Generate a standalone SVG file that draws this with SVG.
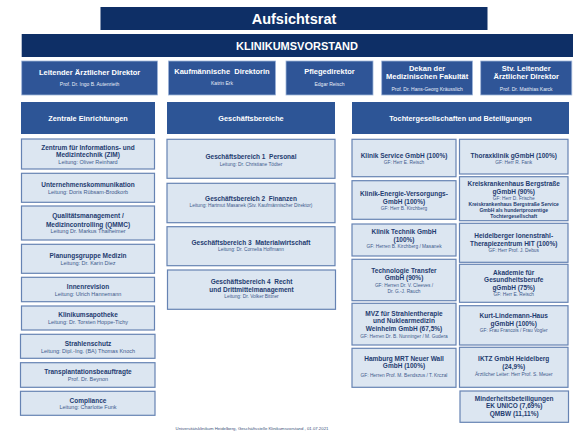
<svg xmlns="http://www.w3.org/2000/svg" width="585" height="439" viewBox="0 0 585 439">
<style>
text{font-family:"Liberation Sans",Arial,sans-serif;text-anchor:middle}
.pre{white-space:pre}
.dark{fill:#0E2F66}
.mid{fill:#2F5597;stroke:#9FB6DA;stroke-width:0.8}
.hdr{fill:#2D5596}
.box{fill:#DCE6F1;stroke:#6683B3;stroke-width:1.2}
.w{fill:#fff;font-weight:bold}
.ws{fill:#E8EEF8;font-size:5px}
.t{fill:#1F3C70;font-weight:bold;font-size:6.5px}
.tb{fill:#1F3C70;font-weight:bold;font-size:5px}
.s{fill:#3E5A8C;font-size:5.5px}
.m{fill:#3E5A8C;font-size:4.8px}
</style>
<rect width="585" height="439" fill="#fff"/>
<g id="aufsichtsrat"><rect class="dark" x="100.5" y="7" width="387" height="23"/><text class="w" x="294" y="24" font-size="14.5">Aufsichtsrat</text></g>
<g id="klinikumsvorstand"><rect class="dark" x="21.7" y="34" width="551.3" height="23"/><text class="w" x="297" y="49.5" font-size="11">KLINIKUMSVORSTAND</text></g>
<g id="lad"><rect class="mid" x="21.7" y="61" width="135.8" height="34"/><text class="w" x="89.6" y="75.3" font-size="7.5">Leitender Ärztlicher Direktor</text><text class="ws" x="89.6" y="86.1">Prof. Dr. Ingo B. Autenrieth</text></g>
<g id="kd"><rect class="mid" x="168.4" y="61" width="107.2" height="34"/><text class="w pre" x="222" y="74.3" font-size="7.5">Kaufmännische  Direktorin</text><text class="ws" x="222" y="85.1">Katrin Erk</text></g>
<g id="pd"><rect class="mid" x="286" y="61" width="87" height="34"/><text class="w" x="329.5" y="74.3" font-size="7.5">Pflegedirektor</text><text class="ws" x="329.5" y="86.1">Edgar Reisch</text></g>
<g id="dekan"><rect class="mid" x="381.7" y="61" width="90.8" height="34"/><text class="w" x="427.1" y="70.9" font-size="7.5">Dekan der</text><text class="w" x="427.1" y="79.3" font-size="7.5">Medizinischen Fakultät</text><text class="ws" x="427.1" y="91.1">Prof. Dr. Hans-Georg Kräusslich</text></g>
<g id="stv"><rect class="mid" x="480.7" y="61" width="91.1" height="34"/><text class="w" x="526.2" y="70.9" font-size="7.5">Stv. Leitender</text><text class="w" x="526.2" y="79.3" font-size="7.5">Ärztlicher Direktor</text><text class="ws" x="526.2" y="91.1">Prof. Dr. Matthias Karck</text></g>

<g id="hdr-zentrale"><rect class="hdr" x="21" y="102" width="134" height="32"/><text class="w" x="88" y="121" font-size="7.3">Zentrale Einrichtungen</text></g>
<g id="hdr-gb"><rect class="hdr" x="167" y="102" width="168" height="32"/><text class="w" x="251" y="121" font-size="7.3">Geschäftsbereiche</text></g>
<g id="hdr-toechter"><rect class="hdr" x="352" y="102" width="217" height="32"/><text class="w" x="460.5" y="121" font-size="7.3">Tochtergesellschaften und Beteiligungen</text></g>

<g id="zim"><rect class="box" x="21.5" y="139" width="133" height="30"/><text class="t" x="88" y="149.6">Zentrum für Informations- und</text><text class="t" x="88" y="157.3">Medizintechnik (ZIM)</text><text class="s" x="88" y="163.9">Leitung: Oliver Reinhard</text></g>
<g id="uk"><rect class="box" x="21.5" y="173.3" width="133" height="29"/><text class="t" x="88" y="187.3">Unternehmenskommunikation</text><text class="s" x="88" y="194.2">Leitung: Doris Rübsam-Brodkorb</text></g>
<g id="qmmc"><rect class="box" x="21.5" y="206" width="133" height="34"/><text class="t" x="88" y="218">Qualitätsmanagement /</text><text class="t" x="88" y="226.6">Medizincontrolling (QMMC)</text><text class="s" x="88" y="233.2">Leitung Dr. Markus Thalheimer</text></g>
<g id="pgm"><rect class="box" x="21.5" y="244.3" width="133" height="29"/><text class="t" x="88" y="258">Planungsgruppe Medizin</text><text class="s" x="88" y="264.6">Leitung: Dr. Karin Diez</text></g>
<g id="ir"><rect class="box" x="21.5" y="277.3" width="133" height="24.4"/><text class="t" x="88" y="289">Innenrevision</text><text class="s" x="88" y="295.9">Leitung: Ulrich Hannemann</text></g>
<g id="apo"><rect class="box" x="21.5" y="306" width="133" height="24"/><text class="t" x="88" y="317.3">Klinikumsapotheke</text><text class="s" x="88" y="324.2">Leitung: Dr. Torsten Hoppe-Tichy</text></g>
<g id="ss"><rect class="box" x="20.5" y="334.3" width="134.5" height="24"/><text class="t" x="88" y="345.6">Strahlenschutz</text><text class="s" x="88" y="352.6">Leitung: Dipl.-Ing. (BA) Thomas Knoch</text></g>
<g id="tpb"><rect class="box" x="20.5" y="362.7" width="134.5" height="24.6"/><text class="t" x="88" y="374">Transplantationsbeauftragte</text><text class="s" x="88" y="380.9">Prof. Dr. Beynon</text></g>
<g id="comp"><rect class="box" x="20.5" y="391.3" width="134.5" height="24"/><text class="t" x="88" y="402.6">Compliance</text><text class="s" x="88" y="409.2">Leitung: Charlotte Funk</text></g>

<g id="gb1"><rect class="box" x="167" y="139.3" width="168" height="39"/><text class="t pre" x="251" y="159.3">Geschäftsbereich 1  Personal</text><text class="m" x="251" y="166">Leitung: Dr. Christiane Tödter</text></g>
<g id="gb2"><rect class="box" x="167" y="183.3" width="168" height="39.4"/><text class="t pre" x="251" y="201.3">Geschäftsbereich 2  Finanzen</text><text class="m" x="251" y="206.9">Leitung: Hartmut Masanek (Stv. Kaufmännischer Direktor)</text></g>
<g id="gb3"><rect class="box" x="167" y="226.7" width="168" height="39"/><text class="t pre" x="251" y="244.6">Geschäftsbereich 3  Materialwirtschaft</text><text class="m" x="251" y="250.6">Leitung: Dr. Cornelia Hoffmann</text></g>
<g id="gb4"><rect class="box" x="167.5" y="270" width="168" height="39.3"/><text class="t pre" x="251.5" y="284">Geschäftsbereich 4  Recht</text><text class="t" x="251.5" y="292">und Drittmittelmanagement</text><text class="m" x="251.5" y="297.9">Leitung: Dr. Volker Bittner</text></g>

<g id="kservice"><rect class="box" x="352" y="139.3" width="104" height="37.4"/><text class="t" x="404" y="158">Klinik Service GmbH (100%)</text><text class="m" x="404" y="163.8">GF: Herr E. Reisch</text></g>
<g id="kenergie"><rect class="box" x="352" y="180.7" width="104" height="38.6"/><text class="t" x="404" y="196.3">Klinik-Energie-Versorgungs-</text><text class="t" x="404" y="203.6">GmbH (100%)</text><text class="m" x="404" y="209.8">GF: Herr B. Kirchberg</text></g>
<g id="ktechnik"><rect class="box" x="352" y="224" width="104" height="32"/><text class="t" x="404" y="234">Klinik Technik GmbH</text><text class="t" x="404" y="241.6">(100%)</text><text class="m" x="404" y="247.8">GF: Herren B. Kirchberg / Masanek</text></g>
<g id="ttransfer"><rect class="box" x="352" y="259.3" width="104" height="41.4"/><text class="t" x="404" y="272.6">Technologie Transfer</text><text class="t" x="404" y="280.3">GmbH (90%)</text><text class="m" x="404" y="286.5">GF: Herren Dr. V. Cleeves /</text><text class="m" x="404" y="292.8">Dr. G.-J. Rauch</text></g>
<g id="mvz"><rect class="box" x="352" y="303.3" width="104" height="41.7"/><text class="t" x="404" y="315.6">MVZ für Strahlentherapie</text><text class="t" x="404" y="323.3">und Nuklearmedizin</text><text class="t" x="404" y="331.3">Weinheim GmbH (67,5%)</text><text class="m" x="404" y="337.8">GF: Herren Dr. B. Nunninger / M. Gudera</text></g>
<g id="hamburg"><rect class="box" x="352" y="348.3" width="104" height="39"/><text class="t" x="404" y="361">Hamburg MRT Neuer Wall</text><text class="t" x="404" y="368.3">GmbH (100%)</text><text class="m" x="404" y="376.5">GF: Herren Prof. M. Bendszus / T. Krczal</text></g>

<g id="thorax"><rect class="box" x="459.5" y="139.3" width="108.5" height="34.7"/><text class="t" x="513.7" y="158">Thoraxklinik gGmbH (100%)</text><text class="m" x="513.7" y="163.8">GF: Herr R. Fank</text></g>
<g id="kreis"><rect class="box" x="459.5" y="176.7" width="108.5" height="44"/><text class="t" x="513.7" y="186.3">Kreiskrankenhaus Bergstraße</text><text class="t" x="513.7" y="194">gGmbH (90%)</text><text class="m" x="513.7" y="200.1">GF: Herr D. Frische</text><text class="tb" x="513.7" y="206.1">Kreiskrankenhaus Bergstraße Service</text><text class="tb" x="513.7" y="211.8">GmbH als hundertprozentige</text><text class="tb" x="513.7" y="217.5">Tochtergesellschaft</text></g>
<g id="hit"><rect class="box" x="459.5" y="223.3" width="108.5" height="39"/><text class="t" x="513.7" y="238">Heidelberger Ionenstrahl-</text><text class="t" x="513.7" y="246.3">Therapiezentrum HIT (100%)</text><text class="m" x="513.7" y="252.1">GF: Herr Prof. J. Debus</text></g>
<g id="akademie"><rect class="box" x="459.5" y="264.3" width="108.5" height="38"/><text class="t" x="513.7" y="274.6">Akademie für</text><text class="t" x="513.7" y="282.3">Gesundheitsberufe</text><text class="t" x="513.7" y="290">gGmbH (75%)</text><text class="m" x="513.7" y="295.8">GF: Herr E. Reisch</text></g>
<g id="kurt"><rect class="box" x="459.5" y="305.7" width="108.5" height="39.3"/><text class="t" x="513.7" y="318">Kurt-Lindemann-Haus</text><text class="t" x="513.7" y="325.6">gGmbH (100%)</text><text class="m" x="513.7" y="332.1">GF: Frau Francois / Frau Vogler</text></g>
<g id="iktz"><rect class="box" x="459.5" y="347.3" width="108.5" height="40"/><text class="t" x="513.7" y="361.3">IKTZ GmbH Heidelberg</text><text class="t" x="513.7" y="368.6">(24,9%)</text><text class="m" x="513.7" y="375.5">Ärztlicher Leiter:  Herr Prof. S. Meuer</text></g>
<g id="minder"><rect class="box" x="460" y="391" width="108.5" height="31.3"/><text class="t" x="514.2" y="400.6">Minderheitsbeteiligungen</text><text class="t" x="514.2" y="408.3">EK UNICO (7,69%)</text><text class="t" x="514.2" y="415.6">QMBW (11,11%)</text></g>

<g id="connectors"></g>
<text x="252" y="430" font-size="4.3" fill="#3A4F7A">Universitätsklinikum Heidelberg, Geschäftsstelle Klinikumsvorstand , 01.07.2021</text>
</svg>
